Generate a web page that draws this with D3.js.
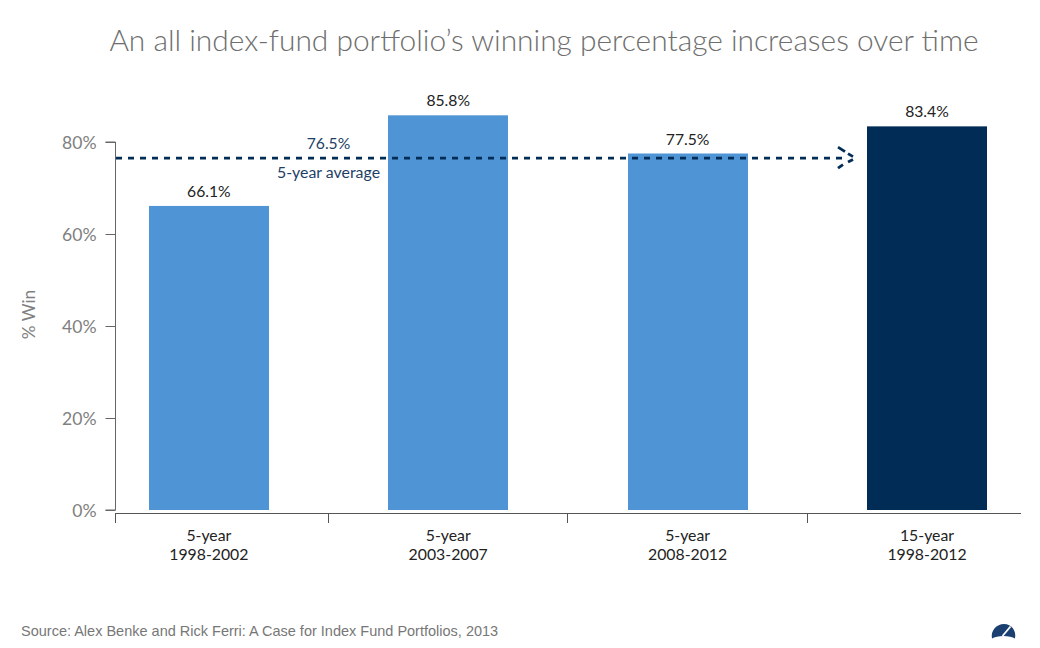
<!DOCTYPE html>
<html><head><meta charset="utf-8">
<script src="https://cdn.jsdelivr.net/npm/d3@7/dist/d3.min.js"></script>
<style>html,body{margin:0;padding:0;background:#fff}svg{display:block}text{font-family:Lato,sans-serif}</style>
</head><body><svg id="c" width="1040" height="648"></svg>
<script>
const titleText = "An all index-fund portfolio’s winning percentage increases over time";
const categories = ["5-year|1998-2002","5-year|2003-2007","5-year|2008-2012","15-year|1998-2012"];
const values = [66.1,85.8,77.5,83.4];
const valueLabels = ["66.1%","85.8%","77.5%","83.4%"];
const barColors = ["#4f94d4","#4f94d4","#4f94d4","#002c56"];
const yTicks = [0,20,40,60,80];
const average = 76.5;
const sourceText = "Source: Alex Benke and Rick Ferri: A Case for Index Fund Portfolios, 2013";

const svg = d3.select("#c");
const x = d3.scaleBand().domain(categories).range([89.2,1046.6]).paddingInner(0.4985).paddingOuter(0.249);
const band = d3.scaleBand().domain(categories).range([89.2,1046.6]);
const y = d3.scaleLinear().domain([0,80]).range([510,142]);

svg.append("text").attr("x",544).attr("y",51).attr("text-anchor","middle")
  .attr("font-size",29.9).attr("font-weight",300).attr("fill","#6e6e6e").text(titleText);

// bars
svg.append("g").selectAll("rect").data(values).join("rect")
  .attr("x",(d,i)=>Math.round(x(categories[i]))).attr("width",Math.round(x.bandwidth()))
  .attr("y",d=>y(d)).attr("height",d=>y(0)-y(d))
  .attr("fill",(d,i)=>barColors[i]);
svg.append("g").selectAll("text").data(values).join("text")
  .attr("x",(d,i)=>x(categories[i])+x.bandwidth()/2).attr("y",d=>y(d)-9)
  .attr("text-anchor","middle").attr("font-size",15.7).attr("fill","#222")
  .text((d,i)=>valueLabels[i]);

// y axis
const gy = svg.append("g").attr("transform","translate(115.5,0)")
  .call(d3.axisLeft(y).tickValues(yTicks).tickSize(10).tickPadding(9).tickFormat(d=>d+"%"));
gy.select(".domain").attr("stroke","#666").attr("d",`M-10,${y(80)}H0V${y(0)}H-10`);
gy.selectAll(".tick line").attr("stroke","#666");
gy.selectAll(".tick text").attr("font-size",17.6).attr("fill","#808080").attr("font-family","Lato,sans-serif").attr("dy","0.35em");
svg.append("text").attr("transform","translate(34.5,314.5) rotate(-90)").attr("text-anchor","middle")
  .attr("font-size",17.2).attr("fill","#808080").text("% Win");

// x axis
const xAxisY = 513.5;
const gx = svg.append("g");
gx.append("line").attr("x1",115).attr("x2",1021).attr("y1",xAxisY).attr("y2",xAxisY).attr("stroke","#555");
const boundaries = categories.map((c,i)=> i===0 ? 115.5 : Math.floor(band(c))+0.5);
gx.selectAll("line.t").data(boundaries).join("line").attr("class","t")
  .attr("x1",d=>d).attr("x2",d=>d).attr("y1",xAxisY).attr("y2",xAxisY+9.5).attr("stroke","#555");
categories.forEach(c=>{
  const parts=c.split("|"), cx=x(c)+x.bandwidth()/2;
  const t=gx.append("text").attr("text-anchor","middle").attr("font-size",15.8).attr("fill","#222");
  t.append("tspan").attr("x",cx).attr("y",541).text(parts[0]);
  t.append("tspan").attr("x",cx).attr("y",560).text(parts[1]);
});

// average line
const ay = y(average);
svg.append("line").attr("x1",116).attr("x2",846).attr("y1",ay).attr("y2",ay)
  .attr("stroke","#002c56").attr("stroke-width",2.8).attr("stroke-dasharray","6 6");
svg.append("path").attr("d",`M838,${ay-11}L845,${ay-6.5}`).attr("fill","none").attr("stroke","#002c56").attr("stroke-width",2.8);
svg.append("path").attr("d",`M848,${ay-4.5}L853,${ay-1.5}`).attr("fill","none").attr("stroke","#002c56").attr("stroke-width",2.8);
svg.append("path").attr("d",`M848,${ay+4}L853,${ay+1.5}`).attr("fill","none").attr("stroke","#002c56").attr("stroke-width",2.8);
svg.append("path").attr("d",`M838,${ay+10}L843,${ay+6.5}`).attr("fill","none").attr("stroke","#002c56").attr("stroke-width",2.8);
svg.append("text").attr("x",328.5).attr("y",149).attr("text-anchor","middle").attr("font-size",15.7).attr("fill","#1d3f66").text("76.5%");
svg.append("text").attr("x",328.5).attr("y",178).attr("text-anchor","middle").attr("font-size",15.9).attr("fill","#1d3f66").text("5-year average");

// source + logo
svg.append("text").attr("x",21).attr("y",635.5).attr("font-size",14.5).attr("fill","#777")
  .style("font-family","'Liberation Sans',Arial,sans-serif").text(sourceText);
const logo=svg.append("g").attr("transform","translate(1003.5,638.5)");
logo.append("path").attr("d","M-11.5,0C-13,-8 -7,-14.5 0.5,-14.5C8,-14.5 13,-8 11.5,0C7,-3.5 -7,-3.5 -11.5,0Z").attr("fill","#1c3f72");
logo.append("path").attr("d","M-1,-2.5L7,-12").attr("stroke","#fff").attr("stroke-width",1.8);
</script></body></html>
